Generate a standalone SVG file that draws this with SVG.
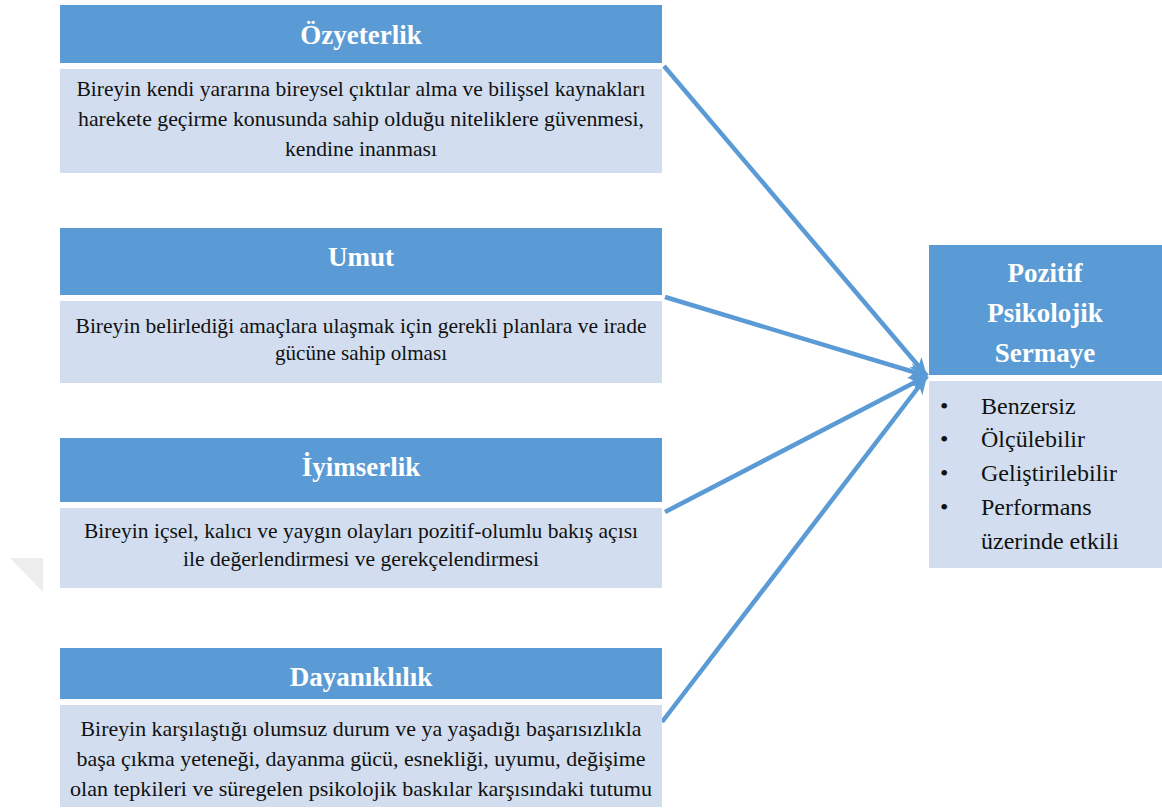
<svg xmlns="http://www.w3.org/2000/svg" width="1162" height="810" viewBox="0 0 1162 810">
  <defs>
    <style>
      .hdr { fill: #5B9BD5; }
      .body { fill: #D2DEEF; }
      .htxt { font-weight: bold; font-size: 27px; fill: #ffffff; text-anchor: middle; }
      .btxt { font-size: 21px; fill: #111111; text-anchor: middle; }
      .ltxt { font-size: 24px; fill: #111111; }
      .edge { stroke: #5B9BD5; stroke-width: 4.5; fill: none; marker-end: url(#head); }
    </style>
    <marker id="head" markerUnits="userSpaceOnUse" markerWidth="22" markerHeight="22" viewBox="0 0 22 22" refX="20" refY="11" orient="auto">
      <path d="M2,3 L20,11 L2,19 L7,11 Z" fill="#5B9BD5"/>
    </marker>
  </defs>

  <rect width="1162" height="810" fill="#ffffff"/>

  <!-- faint corner mark on the left -->
  <polygon points="10,558 43,558 43,592" fill="#ededed"/>

  <g id="connectors">
    <line class="edge" x1="664" y1="66" x2="927" y2="376"/>
    <line class="edge" x1="665" y1="297" x2="927" y2="376"/>
    <line class="edge" x1="665" y1="512" x2="927" y2="376"/>
    <line class="edge" x1="662" y1="722" x2="927" y2="376"/>
  </g>

  <g font-family="Liberation Serif, DejaVu Serif, Noto Serif, serif">
  <g id="ozyeterlik">
    <rect class="hdr" x="60" y="5" width="602" height="58"/>
    <text class="htxt" x="361" y="44">Özyeterlik</text>
    <rect class="body" x="60" y="69" width="602" height="104"/>
    <text class="btxt" x="361" y="96" textLength="569" lengthAdjust="spacingAndGlyphs">Bireyin kendi yararına bireysel çıktılar alma ve bilişsel kaynakları</text>
    <text class="btxt" x="361" y="126" textLength="566" lengthAdjust="spacingAndGlyphs">harekete geçirme konusunda sahip olduğu niteliklere güvenmesi,</text>
    <text class="btxt" x="361" y="156" textLength="152" lengthAdjust="spacingAndGlyphs">kendine inanması</text>
  </g>

  <g id="umut">
    <rect class="hdr" x="60" y="228" width="602" height="67"/>
    <text class="htxt" x="361" y="266">Umut</text>
    <rect class="body" x="60" y="301" width="602" height="82"/>
    <text class="btxt" x="361" y="333" textLength="571" lengthAdjust="spacingAndGlyphs">Bireyin belirlediği amaçlara ulaşmak için gerekli planlara ve irade</text>
    <text class="btxt" x="361" y="360" textLength="172" lengthAdjust="spacingAndGlyphs">gücüne sahip olması</text>
  </g>

  <g id="iyimserlik">
    <rect class="hdr" x="60" y="438" width="602" height="64"/>
    <text class="htxt" x="361" y="476">İyimserlik</text>
    <rect class="body" x="60" y="508" width="602" height="80"/>
    <text class="btxt" x="361" y="538" textLength="554" lengthAdjust="spacingAndGlyphs">Bireyin içsel, kalıcı ve yaygın olayları pozitif-olumlu bakış açısı</text>
    <text class="btxt" x="361" y="566" textLength="356" lengthAdjust="spacingAndGlyphs">ile değerlendirmesi  ve gerekçelendirmesi</text>
  </g>

  <g id="dayaniklilik">
    <rect class="hdr" x="60" y="648" width="602" height="51"/>
    <text class="htxt" x="361" y="686">Dayanıklılık</text>
    <rect class="body" x="60" y="705" width="602" height="102"/>
    <text class="btxt" x="361" y="736" textLength="561" lengthAdjust="spacingAndGlyphs">Bireyin karşılaştığı olumsuz durum ve ya yaşadığı başarısızlıkla</text>
    <text class="btxt" x="361" y="766" textLength="569" lengthAdjust="spacingAndGlyphs">başa çıkma yeteneği, dayanma gücü, esnekliği, uyumu, değişime</text>
    <text class="btxt" x="361" y="796" textLength="582" lengthAdjust="spacingAndGlyphs">olan tepkileri ve süregelen psikolojik baskılar karşısındaki tutumu</text>
  </g>

  <g id="pozitif-psikolojik-sermaye">
    <rect class="hdr" x="929" y="245" width="233" height="130"/>
    <text class="htxt" x="1045" y="282">Pozitif</text>
    <text class="htxt" x="1045" y="322">Psikolojik</text>
    <text class="htxt" x="1045" y="362">Sermaye</text>
    <rect class="body" x="929" y="381" width="233" height="187"/>
    <text class="ltxt" x="940" y="414">•</text>
    <text class="ltxt" x="981" y="414">Benzersiz</text>
    <text class="ltxt" x="940" y="447">•</text>
    <text class="ltxt" x="981" y="447">Ölçülebilir</text>
    <text class="ltxt" x="940" y="481">•</text>
    <text class="ltxt" x="981" y="481">Geliştirilebilir</text>
    <text class="ltxt" x="940" y="515">•</text>
    <text class="ltxt" x="981" y="515">Performans</text>
    <text class="ltxt" x="981" y="549">üzerinde etkili</text>
  </g>
  </g>
</svg>
